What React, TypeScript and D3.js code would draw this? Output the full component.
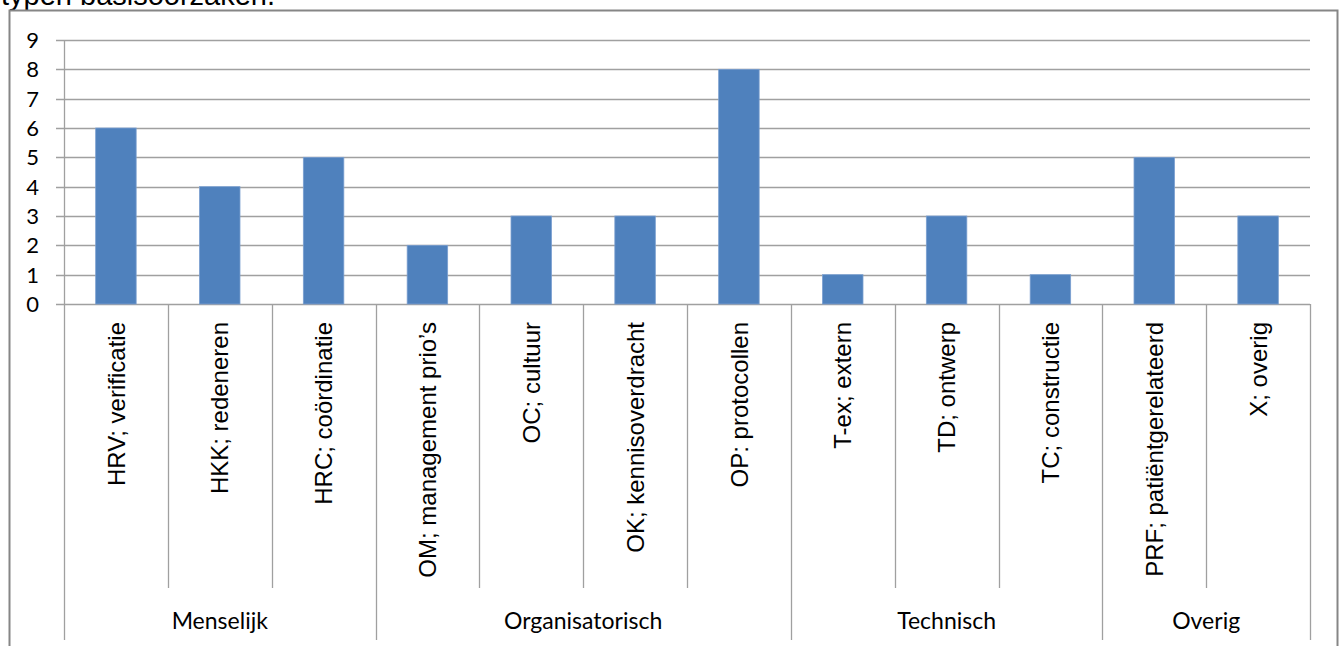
import React, { useRef, useEffect } from 'react';
import * as d3 from 'd3';

// chart data
const categories = [
  'HRV; verificatie',
  'HKK; redeneren',
  'HRC; coördinatie',
  'OM; management prio’s',
  'OC; cultuur',
  'OK; kennisoverdracht',
  'OP: protocollen',
  'T-ex; extern',
  'TD; ontwerp',
  'TC; constructie',
  'PRF; patiëntgerelateerd',
  'X; overig',
];
const values = [6, 4, 5, 2, 3, 3, 8, 1, 3, 1, 5, 3];
const groups = ['Menselijk', 'Organisatorisch', 'Technisch', 'Overig'];
const groupSizes = [3, 4, 3, 2];
const yTicks = [0, 1, 2, 3, 4, 5, 6, 7, 8, 9];

const App = () => {
  const svgRef = useRef<SVGSVGElement>(null);

  useEffect(() => {
    const svg = d3.select(svgRef.current);
    svg.selectAll('*').remove();

    const width = 1343;
    const height = 646;
    const plot = { left: 64, right: 1310, top: 40, bottom: 304 };
    const gridColor = '#a0a0a0';

    // caption text above the frame (cut off at the top in the original)
    svg.append('text')
      .attr('x', 1)
      .attr('y', 5)
      .style('font-family', '"Liberation Sans", Arial, sans-serif')
      .style('font-size', '29px')
      .attr('fill', '#000')
      .text('typen basisoorzaken.');

    // chart frame
    svg.append('rect')
      .attr('x', 9.5)
      .attr('y', 10.5)
      .attr('width', 1328)
      .attr('height', 660)
      .attr('fill', '#fff')
      .attr('stroke', '#868686')
      .attr('stroke-width', 2);

    const x = d3.scaleBand<string>()
      .domain(categories)
      .range([plot.left, plot.right])
      .padding(0);

    const y = d3.scaleLinear()
      .domain([0, 9])
      .range([plot.bottom, plot.top]);

    // gridlines + y tick marks
    svg.append('g')
      .selectAll('line')
      .data(yTicks)
      .join('line')
      .attr('x1', plot.left - 8)
      .attr('x2', plot.right)
      .attr('y1', d => Math.round(y(d)) + 0.5)
      .attr('y2', d => Math.round(y(d)) + 0.5)
      .attr('stroke', gridColor)
      .attr('stroke-width', 1.3);

    svg.append('g')
      .selectAll('text')
      .data(yTicks)
      .join('text')
      .attr('x', 39)
      .attr('y', d => y(d))
      .attr('dy', '0.36em')
      .attr('text-anchor', 'end')
      .style('font-family', 'Lato, "Open Sans", sans-serif')
      .style('font-size', '22px')
      .attr('fill', '#000')
      .text(d => d);

    // bars
    const barW = x.bandwidth() * 0.39;
    svg.append('g')
      .selectAll('rect')
      .data(values)
      .join('rect')
      .attr('x', (d, i) => x(categories[i])! + (x.bandwidth() - barW) / 2)
      .attr('y', d => y(d))
      .attr('width', barW)
      .attr('height', d => y(0) - y(d))
      .attr('fill', '#4f81bd')
      .attr('stroke', '#7a9fd0')
      .attr('stroke-width', 0.8);

    // y axis line
    svg.append('line')
      .attr('x1', plot.left + 0.5)
      .attr('x2', plot.left + 0.5)
      .attr('y1', plot.top)
      .attr('y2', plot.bottom)
      .attr('stroke', gridColor)
      .attr('stroke-width', 1.3);

    // category separators
    const groupEnds = d3.cumsum(groupSizes);
    const bounds = d3.range(categories.length + 1);
    svg.append('g')
      .selectAll('line')
      .data(bounds)
      .join('line')
      .attr('x1', i => Math.round(i < categories.length ? x(categories[i])! : plot.right) + 0.5)
      .attr('x2', i => Math.round(i < categories.length ? x(categories[i])! : plot.right) + 0.5)
      .attr('y1', plot.bottom)
      .attr('y2', i => (i === 0 || groupEnds.includes(i) ? 640 : 588))
      .attr('stroke', gridColor)
      .attr('stroke-width', 1.3);

    // rotated category labels
    svg.append('g')
      .selectAll('text')
      .data(categories)
      .join('text')
      .attr('transform', d => `translate(${x(d)! + x.bandwidth() / 2},322) rotate(-90)`)
      .attr('dy', '0.36em')
      .attr('text-anchor', 'end')
      .style('font-family', '"Liberation Sans", Arial, sans-serif')
      .style('font-size', '24px')
      .attr('fill', '#000')
      .text(d => d);

    // group labels
    const starts = [0, ...groupEnds.slice(0, -1)];
    svg.append('g')
      .selectAll('text')
      .data(groups)
      .join('text')
      .attr('x', (d, i) => {
        const a = x(categories[starts[i]])!;
        const last = categories[groupEnds[i] - 1];
        const b = x(last)! + x.bandwidth();
        return (a + b) / 2;
      })
      .attr('y', 629)
      .attr('text-anchor', 'middle')
      .style('font-family', 'Lato, "Open Sans", sans-serif')
      .style('font-size', '23px')
      .attr('fill', '#000')
      .text(d => d);

    svg.attr('width', width).attr('height', height);
  }, []);

  return (
    <svg
      ref={svgRef}
      width={1343}
      height={646}
      style={{ position: 'absolute', left: 0, top: 0, display: 'block', background: '#fff' }}
    ></svg>
  );
};

export default App;
